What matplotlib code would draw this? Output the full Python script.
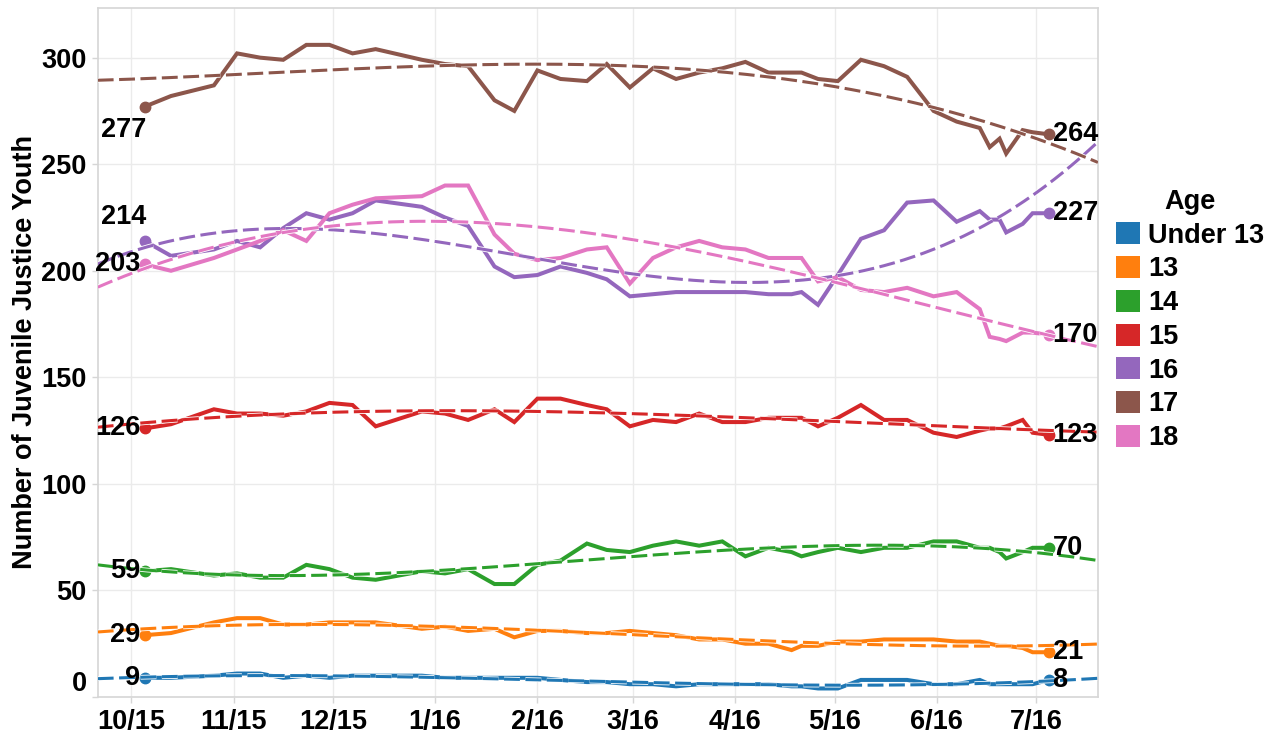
import numpy as np
import matplotlib
matplotlib.use("Agg")
import matplotlib.pyplot as plt
import matplotlib.dates as mdates
import matplotlib.patheffects as pe
from matplotlib.patches import Patch

# weekly snapshot dates
dates = [
    "2015-10-05", "2015-10-13", "2015-10-26", "2015-11-02", "2015-11-09", "2015-11-16",
    "2015-11-23", "2015-11-30", "2015-12-07", "2015-12-14", "2015-12-28", "2016-01-04",
    "2016-01-11", "2016-01-19", "2016-01-25", "2016-02-01", "2016-02-08", "2016-02-16",
    "2016-02-22", "2016-02-29", "2016-03-07", "2016-03-14", "2016-03-21", "2016-03-28",
    "2016-04-04", "2016-04-11", "2016-04-18", "2016-04-21", "2016-04-26", "2016-05-02",
    "2016-05-09", "2016-05-16", "2016-05-23", "2016-05-31", "2016-06-07", "2016-06-14",
    "2016-06-17", "2016-06-20", "2016-06-22", "2016-06-27", "2016-06-30", "2016-07-05",
]

ages = ["Under 13", "13", "14", "15", "16", "17", "18"]
colors = ["#1f77b4", "#ff7f0e", "#2ca02c", "#d62728", "#9467bd", "#8c564b", "#e377c2"]

age_u13 = [9, 9, 10, 11, 11, 9, 10, 9, 10, 10, 10, 9, 9, 9, 9, 9, 8, 7, 7, 6,
           6, 5, 6, 6, 6, 6, 5, 5, 4, 4, 8, 8, 8, 6, 6, 8, 6, 6, 6, 6, 6, 8]
age_13 = [29, 30, 35, 37, 37, 34, 34, 35, 35, 35, 32, 33, 31, 32, 28, 31, 31, 30, 30, 31,
          30, 29, 27, 27, 25, 25, 22, 24, 24, 26, 26, 27, 27, 27, 26, 26, 25, 24, 24, 23, 21, 21]
age_14 = [59, 60, 57, 58, 56, 56, 62, 60, 56, 55, 59, 58, 60, 53, 53, 62, 64, 72, 69, 68,
          71, 73, 71, 73, 66, 70, 68, 66, 68, 70, 68, 70, 70, 73, 73, 70, 70, 68, 65, 68, 70, 70]
age_15 = [126, 128, 135, 133, 133, 132, 134, 138, 137, 127, 134, 133, 130, 135, 129, 140, 140, 137, 135, 127,
          130, 129, 133, 129, 129, 131, 131, 131, 127, 131, 137, 130, 130, 124, 122, 125, 126, 126, 127, 130, 124, 123]
age_16 = [214, 207, 210, 214, 211, 220, 227, 224, 227, 233, 230, 225, 221, 202, 197, 198, 202, 199, 196, 188,
          189, 190, 190, 190, 190, 189, 189, 190, 184, 198, 215, 219, 232, 233, 223, 228, 224, 224, 218, 222, 227, 227]
age_17 = [277, 282, 287, 302, 300, 299, 306, 306, 302, 304, 299, 297, 296, 280, 275, 294, 290, 289, 297, 286,
          295, 290, 293, 295, 298, 293, 293, 293, 290, 289, 299, 296, 291, 275, 270, 267, 258, 262, 255, 266, 265, 264]
age_18 = [203, 200, 206, 210, 214, 219, 214, 227, 231, 234, 235, 240, 240, 217, 208, 205, 206, 210, 211, 194,
          206, 211, 214, 211, 210, 206, 206, 206, 195, 197, 191, 190, 192, 188, 190, 182, 169, 168, 167, 171, 171, 170]

series = [age_u13, age_13, age_14, age_15, age_16, age_17, age_18]

month_ticks = ["2015-10-01", "2015-11-01", "2015-12-01", "2016-01-01", "2016-02-01", "2016-03-01",
               "2016-04-01", "2016-05-01", "2016-06-01", "2016-07-01"]
tick_labels = ["10/15", "11/15", "12/15", "1/16", "2/16", "3/16", "4/16", "5/16", "6/16", "7/16"]

plt.rcParams["font.family"] = ["Liberation Sans", "DejaVu Sans"]
plt.rcParams["font.weight"] = "bold"
FS = 19.5

fig = plt.figure(figsize=(12.84, 7.41), dpi=100)
ax = fig.add_axes([0.0761, 0.0594, 0.7790, 0.9298])

x = mdates.date2num(np.array(dates, dtype="datetime64[D]"))
x0 = mdates.date2num(np.datetime64("2015-09-21")) - 0.2
x1 = mdates.date2num(np.datetime64("2016-07-20")) - 0.2
xfit = np.linspace(x0, x1, 300)

# solid lines + end markers
for vals, c in zip(series, colors):
    y = np.array(vals, dtype=float)
    ax.plot(x, y, color=c, lw=2.9, solid_joinstyle="miter", zorder=3)
    ax.plot([x[0], x[-1]], [y[0], y[-1]], "o", color=c, ms=7.5, zorder=4)

# cubic trend lines
for vals, c in zip(series, colors):
    y = np.array(vals, dtype=float)
    t = x - x[0]
    coef = np.polyfit(t, y, 3)
    ax.plot(xfit, np.polyval(coef, xfit - x[0]), color=c, lw=2.2, dashes=(5.2, 1.8), zorder=5,
            path_effects=[pe.Stroke(linewidth=3.4, foreground="white"), pe.Normal()])

# start / end value labels
start_off = {"Under 13": (-3, 0, "center"), "13": (-3, 0, "center"), "14": (-3, 0, "center"),
             "15": (-3, 0, "center"), "16": (1, 17, "center"), "17": (1, -17, "center"),
             "18": (-3, 0, "center")}
for name, vals in zip(ages, series):
    dx, dy, va = start_off[name]
    ax.annotate(str(vals[0]), (x[0], vals[0]), xytext=(dx, dy), textcoords="offset points",
                ha="right", va=va, fontsize=FS, fontweight="bold", zorder=6)
    ax.annotate(str(vals[-1]), (x[-1], vals[-1]), xytext=(2.5, 0), textcoords="offset points",
                ha="left", va="center", fontsize=FS, fontweight="bold", zorder=6)

ax.set_xlim(x0, x1)
ax.set_ylim(0, 323.3)
ax.set_xticks(mdates.date2num(np.array(month_ticks, dtype="datetime64[D]")))
ax.set_xticklabels(tick_labels)
ax.set_yticks([0, 50, 100, 150, 200, 250, 300])
ax.tick_params(axis="both", length=4, color="#d6d6d6", labelsize=FS, width=1)
ax.tick_params(axis="x", pad=5)
ax.tick_params(axis="y", pad=4)
for lab in ax.get_yticklabels():
    if lab.get_text() == "0":
        lab.set_verticalalignment("bottom")
ax.grid(True, color="#ebebeb", lw=1, zorder=0)
ax.set_axisbelow(True)
for s in ax.spines.values():
    s.set_color("#d6d6d6")
    s.set_linewidth(1.2)
ax.set_ylabel("Number of Juvenile Justice Youth", fontsize=FS, fontweight="bold", labelpad=2)

handles = [Patch(facecolor=c, edgecolor="none") for c in colors]
leg = fig.legend(handles, ages, title="Age", loc="upper left", bbox_to_anchor=(1116 / 1284, 1 - 189 / 741),
                 frameon=False, fontsize=FS, title_fontproperties={"weight": "bold", "size": FS},
                 handlelength=0.88, handleheight=0.88, handletextpad=0.3, labelspacing=0.27, borderpad=0,
                 borderaxespad=0)

fig.savefig("out.png", dpi=100)
